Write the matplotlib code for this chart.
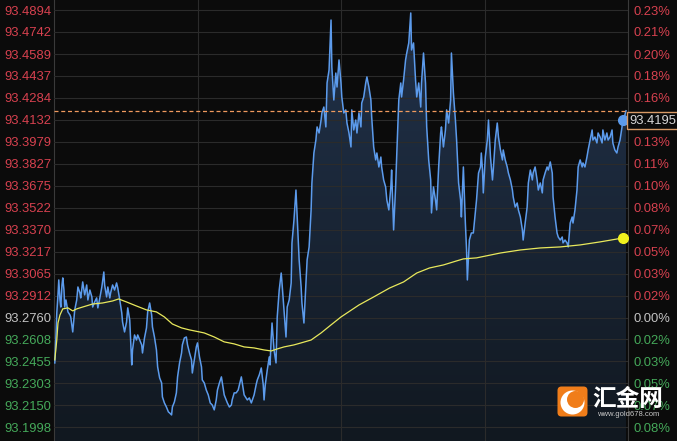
import numpy as np
import matplotlib.pyplot as plt
from matplotlib.colors import LinearSegmentedColormap
from matplotlib.patches import Polygon, FancyBboxPatch, Circle

# session reference values
prev_close = 93.276
last_price = 93.4195

# price line: minutes since open, price
price_min = [2, 5, 7, 10, 12, 15, 17, 20, 22, 25,
             27, 30, 32, 35, 40, 42, 47, 52, 57, 60,
             65, 67, 72, 77, 82, 85, 90, 95, 97, 102,
             107, 110, 115, 120, 125, 127, 132, 135, 140, 142,
             147, 152, 157, 160, 165, 170, 172, 177, 182, 185,
             190, 195, 197, 202, 207, 210, 215, 220, 222, 227,
             232, 235, 240, 245, 247, 252, 257, 260, 265, 270,
             272, 277, 282, 287, 290, 295, 297, 302, 307, 310,
             315, 320, 322, 327, 332, 335, 340, 345, 347, 352,
             357, 360, 365, 370, 372, 377, 382, 387, 392, 397,
             402, 407, 410, 415, 420, 425, 427, 435, 440, 445,
             447, 452, 457, 462, 470, 475, 477, 485, 490, 495,
             502, 507, 510, 515, 520, 525, 527, 530, 535, 540,
             542, 545, 547, 552, 557, 560, 565, 570, 572, 577,
             582, 585, 590, 595, 597, 602, 607, 610, 615, 620,
             622, 627, 632, 635, 640, 645, 647, 652, 657, 660,
             665, 670, 672, 677, 682, 685, 690, 695, 697, 702,
             707, 710, 715, 720, 722, 727, 732, 735, 740, 745,
             747, 752, 757, 760, 765, 770, 772, 777, 782, 785,
             790, 795, 797, 802, 807, 810, 815, 820, 822, 827,
             832, 835, 840, 845, 847, 852, 857, 860, 865, 870,
             872, 877, 882, 885, 890, 895, 897, 902, 907, 910,
             915, 920, 922, 927, 932, 935, 940, 945, 947, 952,
             957, 960, 965, 970, 972, 977, 982, 985, 990, 995,
             997, 1002, 1007, 1010, 1015, 1020, 1022, 1027, 1032, 1035,
             1037, 1042, 1047, 1052, 1057, 1060, 1065, 1070, 1072, 1075,
             1077, 1082, 1087, 1090, 1095, 1100, 1102, 1107, 1112, 1115,
             1120, 1125, 1127, 1132, 1137, 1140, 1145, 1150, 1152, 1157,
             1162, 1165, 1170, 1175, 1177, 1182, 1187, 1190, 1195, 1200,
             1202, 1207, 1212, 1215, 1220, 1225, 1227, 1232, 1237, 1240,
             1245, 1250, 1252, 1257, 1262, 1265, 1270, 1275, 1277, 1282,
             1287, 1290, 1295, 1300, 1302, 1307, 1312, 1315, 1320, 1325,
             1327, 1332, 1337, 1340, 1345, 1350, 1352, 1357, 1362, 1365,
             1370, 1375, 1377, 1382, 1387, 1390, 1395, 1400, 1402, 1407,
             1412, 1415, 1420, 1425, 1427, 1430, 1435]
price_val = [93.2445, 93.2639, 93.2792, 93.2917, 93.3021, 93.2882, 93.2833, 93.2986, 93.3035, 93.2951,
             93.2833, 93.2882, 93.2847, 93.2799, 93.2778, 93.2764, 93.2660, 93.2813, 93.2882, 93.2972,
             93.2931, 93.2896, 93.3007, 93.2917, 93.2986, 93.2882, 93.2951, 93.2903, 93.2833, 93.2868,
             93.2896, 93.2827, 93.2896, 93.2972, 93.3076, 93.2986, 93.2903, 93.2972, 93.2896, 93.2931,
             93.2986, 93.2951, 93.3000, 93.2965, 93.2882, 93.2792, 93.2729, 93.2660, 93.2729, 93.2827,
             93.2743, 93.2431, 93.2535, 93.2639, 93.2604, 93.2639, 93.2604, 93.2570, 93.2514, 93.2618,
             93.2688, 93.2799, 93.2861, 93.2778, 93.2695, 93.2625, 93.2535, 93.2417, 93.2341, 93.2306,
             93.2209, 93.2167, 93.2139, 93.2105, 93.2098, 93.2084, 93.2139, 93.2174, 93.2237, 93.2348,
             93.2445, 93.2514, 93.2570, 93.2618, 93.2625, 93.2570, 93.2514, 93.2466, 93.2375, 93.2466,
             93.2556, 93.2584, 93.2486, 93.2417, 93.2327, 93.2306, 93.2257, 93.2223, 93.2167, 93.2153,
             93.2119, 93.2188, 93.2257, 93.2306, 93.2348, 93.2257, 93.2223, 93.2167, 93.2139, 93.2153,
             93.2188, 93.2237, 93.2237, 93.2257, 93.2348, 93.2257, 93.2223, 93.2188, 93.2202, 93.2167,
             93.2223, 93.2292, 93.2327, 93.2362, 93.2410, 93.2292, 93.2188, 93.2292, 93.2396, 93.2486,
             93.2431, 93.2625, 93.2722, 93.2535, 93.2445, 93.2764, 93.2951, 93.3069, 93.3000, 93.2813,
             93.2625, 93.2833, 93.2882, 93.3000, 93.3278, 93.3437, 93.3645, 93.3458, 93.3160, 93.2972,
             93.2861, 93.2722, 93.3000, 93.3160, 93.3250, 93.3507, 93.3694, 93.3902, 93.3992, 93.4083,
             93.4041, 93.4131, 93.4180, 93.4221, 93.4083, 93.4388, 93.4478, 93.4825, 93.4499, 93.4270,
             93.4457, 93.4360, 93.4548, 93.4388, 93.4291, 93.4180, 93.4201, 93.4110, 93.4041, 93.3944,
             93.4201, 93.4062, 93.4131, 93.4041, 93.4180, 93.4083, 93.4249, 93.4291, 93.4388, 93.4430,
             93.4360, 93.4270, 93.4152, 93.3944, 93.3854, 93.3902, 93.3805, 93.3874, 93.3805, 93.3715,
             93.3666, 93.3576, 93.3507, 93.3666, 93.3784, 93.3368, 93.3666, 93.3902, 93.4270, 93.4388,
             93.4291, 93.4409, 93.4548, 93.4596, 93.4666, 93.4874, 93.4617, 93.4666, 93.4409, 93.4291,
             93.4388, 93.4221, 93.4388, 93.4596, 93.4388, 93.4083, 93.3854, 93.3715, 93.3486, 93.3666,
             93.3576, 93.3507, 93.3805, 93.4041, 93.4083, 93.3944, 93.4062, 93.4201, 93.4110, 93.4270,
             93.4596, 93.4319, 93.4131, 93.3992, 93.3694, 93.3576, 93.3458, 93.3805, 93.3416, 93.3229,
             93.3021, 93.3298, 93.3347, 93.3347, 93.3486, 93.3576, 93.3763, 93.3805, 93.3902, 93.3784,
             93.3625, 93.3874, 93.3992, 93.4131, 93.3874, 93.3715, 93.3784, 93.3992, 93.4110, 93.4013,
             93.3923, 93.3854, 93.3923, 93.3854, 93.3805, 93.3763, 93.3715, 93.3645, 93.3597, 93.3527,
             93.3555, 93.3507, 93.3458, 93.3368, 93.3298, 93.3416, 93.3527, 93.3694, 93.3784, 93.3715,
             93.3763, 93.3805, 93.3715, 93.3645, 93.3694, 93.3625, 93.3715, 93.3763, 93.3805, 93.3784,
             93.3840, 93.3763, 93.3597, 93.3458, 93.3347, 93.3319, 93.3298, 93.3319, 93.3278, 93.3298,
             93.3278, 93.3250, 93.3416, 93.3458, 93.3416, 93.3507, 93.3645, 93.3805, 93.3854, 93.3805,
             93.3833, 93.3805, 93.3874, 93.3923, 93.3992, 93.4062, 93.3992, 93.4013, 93.3972, 93.4041,
             93.4013, 93.3972, 93.4062, 93.3992, 93.4041, 93.3992, 93.4013, 93.4062, 93.3972, 93.3923,
             93.3902, 93.3944, 93.3992, 93.4083, 93.4131, 93.4145, 93.4195]

# average line
ma_min = [2, 7, 10, 15, 22, 35, 47, 57, 72, 97,
          122, 147, 162, 182, 207, 232, 257, 277, 297, 320,
          340, 365, 377, 402, 427, 452, 477, 502, 527, 545,
          560, 577, 602, 620, 645, 670, 695, 720, 765, 802,
          842, 877, 910, 942, 977, 1010, 1027, 1060, 1120, 1170,
          1220, 1270, 1320, 1370, 1427]
ma_val = [93.2466, 93.2604, 93.2722, 93.2778, 93.2820, 93.2827, 93.2806, 93.2820, 93.2833, 93.2854,
          93.2861, 93.2875, 93.2889, 93.2868, 93.2840, 93.2813, 93.2799, 93.2764, 93.2715, 93.2688,
          93.2674, 93.2660, 93.2653, 93.2625, 93.2591, 93.2577, 93.2556, 93.2549, 93.2535, 93.2528,
          93.2542, 93.2556, 93.2570, 93.2584, 93.2604, 93.2653, 93.2709, 93.2764, 93.2847, 93.2903,
          93.2965, 93.3007, 93.3069, 93.3104, 93.3125, 93.3153, 93.3167, 93.3174, 93.3208, 93.3229,
          93.3243, 93.3250, 93.3264, 93.3285, 93.3312]

# axis labels, bottom to top
left_labels = ['93.1998', '93.2150', '93.2303', '93.2455', '93.2608', '93.2760',
               '93.2912', '93.3065', '93.3217', '93.3370', '93.3522', '93.3675',
               '93.3827', '93.3979', '93.4132', '93.4284', '93.4437', '93.4589',
               '93.4742', '93.4894']
right_labels = ['0.08%', '0.07%', '0.05%', '0.03%', '0.02%', '0.00%',
                '0.02%', '0.03%', '0.05%', '0.07%', '0.08%', '0.10%',
                '0.11%', '0.13%', '0.15%', '0.16%', '0.18%', '0.20%',
                '0.21%', '0.23%']

bg = '#0b0b0b'
red = '#d7414f'
green = '#45a95a'
flat = '#c4c4c4'
blue = '#5c9bec'
yellow = '#e8e85c'

plt.rcParams['font.family'] = ['Liberation Sans', 'DejaVu Sans']

fig = plt.figure(figsize=(6.77, 4.41), dpi=100, facecolor=bg)
ax = fig.add_axes([54 / 677, 0, 574 / 677, 1])
ax.set_facecolor(bg)

ylo, yhi = 93.1903, 93.4964
xlo, xhi = 0, 1440

# gradient fill under the price line
verts = [(price_min[0], ylo)] + list(zip(price_min, price_val)) + [(price_min[-1], ylo)]
poly = Polygon(verts, closed=True, facecolor='none', edgecolor='none')
ax.add_patch(poly)
cmap = LinearSegmentedColormap.from_list('fillgrad', ['#111820', '#22334c'])
grad = np.linspace(1, 0, 256).reshape(-1, 1)
im = ax.imshow(grad, extent=[xlo, xhi, ylo, yhi], aspect='auto', cmap=cmap,
               origin='upper', zorder=1)
im.set_clip_path(poly)

ax.set_xlim(xlo, xhi)
ax.set_ylim(ylo, yhi)

# grid
ticks = [float(s) for s in left_labels]
ax.set_yticks(ticks)
ax.set_yticklabels(left_labels)
ax.set_xticks([360, 720, 1080])
ax.set_xticklabels([])
ax.grid(True, color='#2b2b2b', linewidth=0.8)
ax.set_axisbelow(False)
ax.tick_params(axis='both', length=0)
ax.tick_params(axis='y', labelsize=9.4, pad=2)

base_i = left_labels.index('93.2760')
for i, lab in enumerate(ax.get_yticklabels()):
    lab.set_color(red if i > base_i else (green if i < base_i else flat))

for side in ['top', 'bottom']:
    ax.spines[side].set_visible(False)
for side in ['left', 'right']:
    ax.spines[side].set_color('#3a3a3a')
    ax.spines[side].set_linewidth(0.8)

# lines
ax.plot(price_min, price_val, color=blue, linewidth=1.1, zorder=4)
ax.plot(ma_min, ma_val, color=yellow, linewidth=0.9, zorder=4)
ax.axhline(last_price, color='#f09a5e', linewidth=0.9, dashes=(3.2, 2.2), zorder=5)
ax.plot(price_min[-3], price_val[-3], 'o', color=blue, markersize=7, zorder=6)
ax.plot(ma_min[-1], ma_val[-1], 'o', color='#f2f21e', markersize=7, zorder=6)

# right axis with percentage labels
ax2 = ax.twinx()
ax2.set_ylim(ylo, yhi)
ax2.set_yticks(ticks)
ax2.set_yticklabels(right_labels)
ax2.tick_params(axis='y', length=0, labelsize=9.4, pad=4)
for i, lab in enumerate(ax2.get_yticklabels()):
    lab.set_color(red if i > base_i else (green if i < base_i else flat))
for side in ['top', 'bottom', 'left', 'right']:
    ax2.spines[side].set_visible(False)

# last price box
ax2.text(1.0025, last_price - 0.0068, '%.4f' % last_price, transform=ax2.get_yaxis_transform(),
         fontsize=9.4, color='#d8d8d8', va='center', ha='left', zorder=10, clip_on=False,
         bbox=dict(boxstyle='square,pad=0.2', facecolor=bg, edgecolor='#d99a66', linewidth=1))

# logo
lax = fig.add_axes([556 / 677, 23 / 441, 33 / 677, 33 / 441])
lax.set_xlim(0, 33)
lax.set_ylim(0, 33)
lax.axis('off')
lax.add_patch(FancyBboxPatch((1.5, 1.5), 30, 30, boxstyle='round,pad=0,rounding_size=4',
                             facecolor='#f07d1a', edgecolor='none'))
lax.add_patch(Circle((16.5, 15.5), 12, facecolor='white', edgecolor='none'))
lax.add_patch(Circle((19.5, 18.5), 8.5, facecolor='#f07d1a', edgecolor='none'))

fig.text(628 / 677, 1 - 399 / 441, '汇金网', fontsize=17, color='white', ha='center', va='center',
         family=['Noto Sans CJK SC', 'DejaVu Sans'], fontweight='bold')
fig.text(628 / 677, 1 - 414.5 / 441, 'www.gold678.com', fontsize=5.5, color='#c8c8c8',
         ha='center', va='center')

fig.savefig('out.png', dpi=100, facecolor=bg)
